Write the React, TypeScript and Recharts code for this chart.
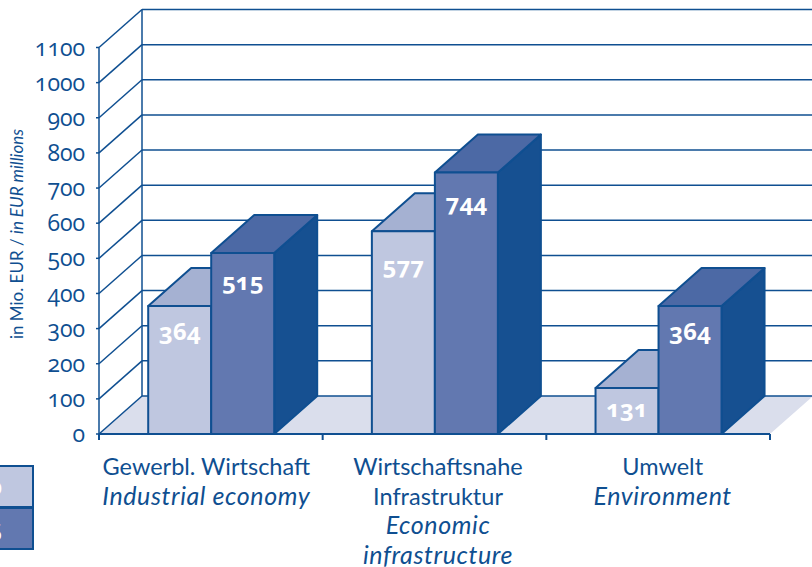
import React from 'react';
import { BarChart, Bar, XAxis, YAxis, CartesianGrid, LabelList, Label, Legend } from 'recharts';

const categories = ['Gewerbl. Wirtschaft', 'Wirtschaftsnahe Infrastruktur', 'Umwelt'];
const germanLines = [['Gewerbl. Wirtschaft'], ['Wirtschaftsnahe', 'Infrastruktur'], ['Umwelt']];
const englishLines = [['Industrial economy'], ['Economic', 'infrastructure'], ['Environment']];
const lightValues = [364, 577, 131];
const darkValues = [515, 744, 364];
const yTicks = [0, 100, 200, 300, 400, 500, 600, 700, 800, 900, 1000, 1100];
const seriesNames = ['2000', '2005'];

const data = categories.map((name, i) => ({ name, light: lightValues[i], dark: darkValues[i] }));

// depth of the fake 3d box
const DX = 43;
const DY = 38;
const BLUE = '#0f4f91';
const FONT = 'Lato, sans-serif';
const NUM_FONT = '"Open Sans", sans-serif'; // has old style figures
const labelNudge = [-4.5, 3.5, 4.5];
const lightLabelDrop = [12, 21, 7];
const darkLabelDrop = [15, 16, 12];

const GridLine = (props: any) => {
  const { x1, x2, y1, y, height } = props;
  const isFloor = Math.abs(y1 - (y + height)) < 1;
  const isTop = Math.abs(y1 - y) < 1;
  return (
    <g>
      {isFloor && (
        <polygon
          points={`${x1},${y1} ${x1 + DX},${y1 - DY} ${x2 + DX},${y1 - DY} ${x2},${y1}`}
          fill="#dadeec"
        />
      )}
      {isTop && <line x1={x1 + DX} x2={x1 + DX} y1={y1 - DY} y2={y + height - DY} stroke={BLUE} strokeWidth={1.5} />}
      <line x1={x1} y1={y1} x2={x1 + DX} y2={y1 - DY} stroke={BLUE} strokeWidth={1.5} />
      <line x1={x1 + DX} y1={y1 - DY} x2={x2 + DX} y2={y1 - DY} stroke={BLUE} strokeWidth={1.5} />
    </g>
  );
};

const boxShape = (topFill: string, sideFill: string) => (props: any) => {
  const { x, y, width, height, fill } = props;
  const r = x + width;
  const b = y + height;
  return (
    <g stroke={BLUE} strokeWidth={2} strokeLinejoin="round">
      <polygon points={`${r},${y} ${r + DX},${y - DY} ${r + DX},${b - DY} ${r},${b}`} fill={sideFill} />
      <polygon points={`${x},${y} ${x + DX},${y - DY} ${r + DX},${y - DY} ${r},${y}`} fill={topFill} />
      <rect x={x} y={y} width={width} height={height} fill={fill} />
    </g>
  );
};

const barLabel = (drops: number[]) => (props: any) => {
  const { x, y, width, value, index } = props;
  return (
    <text
      x={x + width / 2}
      y={y + 22 + drops[index]}
      textAnchor="middle"
      fill="#fff"
      fontFamily={NUM_FONT}
      fontWeight={700}
      fontSize={24}
      style={{ fontVariantNumeric: 'oldstyle-nums' }}
    >
      {value}
    </text>
  );
};

const CategoryTick = (props: any) => {
  const { x, y, index, payload } = props;
  const band = (payload.offset ?? 111.8) as number;
  const cx = x + labelNudge[index];
  const lines = [
    ...germanLines[index].map((t) => ({ t, italic: false })),
    ...englishLines[index].map((t) => ({ t, italic: true })),
  ];
  return (
    <g>
      {index === 0 && <line x1={x - band} x2={x - band} y1={y} y2={y + 6} stroke={BLUE} strokeWidth={2} />}
      <line x1={x + band} x2={x + band} y1={y} y2={y + 6} stroke={BLUE} strokeWidth={2} />
      {lines.map((l, i) => (
        <text
          key={i}
          x={cx}
          y={y + 41 + i * 29.7}
          textAnchor="middle"
          fill={BLUE}
          fontFamily={FONT}
          fontSize={l.italic ? 25 : 23.5}
          letterSpacing={l.italic ? 0.6 : 0}
          fontStyle={l.italic ? 'italic' : 'normal'}
        >
          {l.t}
        </text>
      ))}
    </g>
  );
};

const AxisTitle = () => (
  <text
    x={23}
    y={234}
    transform="rotate(-90, 23, 234)"
    textAnchor="middle"
    fill={BLUE}
    fontFamily={FONT}
    fontSize={17}
  >
    in Mio. EUR / <tspan fontStyle="italic">in EUR millions</tspan>
  </text>
);

const LegendBoxes = ({ payload }: any) => (
  <div>
    {(payload || []).map((p: any) => (
      <div
        key={p.value}
        style={{
          boxSizing: 'border-box',
          height: 43,
          width: 104,
          marginBottom: -1.5,
          background: p.color,
          border: `2px solid ${BLUE}`,
          color: '#fff',
          textAlign: 'right',
          paddingRight: 30,
          fontFamily: NUM_FONT,
          fontSize: 23,
          lineHeight: '38px',
          fontVariantNumeric: 'oldstyle-nums',
        }}
      >
        {p.value}
      </div>
    ))}
  </div>
);

export default function App() {
  return (
    <div style={{ position: 'absolute', left: 0, top: 0, width: 812, height: 567, overflow: 'hidden', background: '#fff' }}>
      <BarChart
        width={812}
        height={567}
        data={data}
        margin={{ top: 47.5, right: 42, bottom: 0, left: 0 }}
        barCategoryGap="22%"
        barGap={0}
      >
        <CartesianGrid horizontal={(p: any) => <GridLine {...p} />} vertical={false} />
        <XAxis
          dataKey="name"
          height={133}
          interval={0}
          tickLine={false}
          tickSize={0}
          tickMargin={0}
          axisLine={{ stroke: BLUE, strokeWidth: 2 }}
          tick={(p: any) => <CategoryTick {...p} />}
        />
        <YAxis
          width={99}
          domain={[0, 1100]}
          ticks={yTicks}
          interval={0}
          tickSize={3}
          tickMargin={11}
          axisLine={{ stroke: BLUE, strokeWidth: 1.5 }}
          tickLine={{ stroke: BLUE, strokeWidth: 1.5 }}
          tick={{ fill: BLUE, fontFamily: NUM_FONT, fontSize: 23, style: { fontVariantNumeric: 'oldstyle-nums' } }}
        >
          <Label content={<AxisTitle />} />
        </YAxis>
        <Legend
          layout="vertical"
          align="center"
          verticalAlign="middle"
          wrapperStyle={{ left: -70, top: 465, width: 104 }}
          content={<LegendBoxes />}
        />
        <Bar
          dataKey="light"
          name={seriesNames[0]}
          fill="#bfc7e0"
          shape={boxShape('#a5b1d2', '#a5b1d2')}
          isAnimationActive={false}
        >
          <LabelList dataKey="light" content={barLabel(lightLabelDrop)} />
        </Bar>
        <Bar
          dataKey="dark"
          name={seriesNames[1]}
          fill="#6278b0"
          shape={boxShape('#4c69a5', '#165091')}
          isAnimationActive={false}
        >
          <LabelList dataKey="dark" content={barLabel(darkLabelDrop)} />
        </Bar>
      </BarChart>
    </div>
  );
}
